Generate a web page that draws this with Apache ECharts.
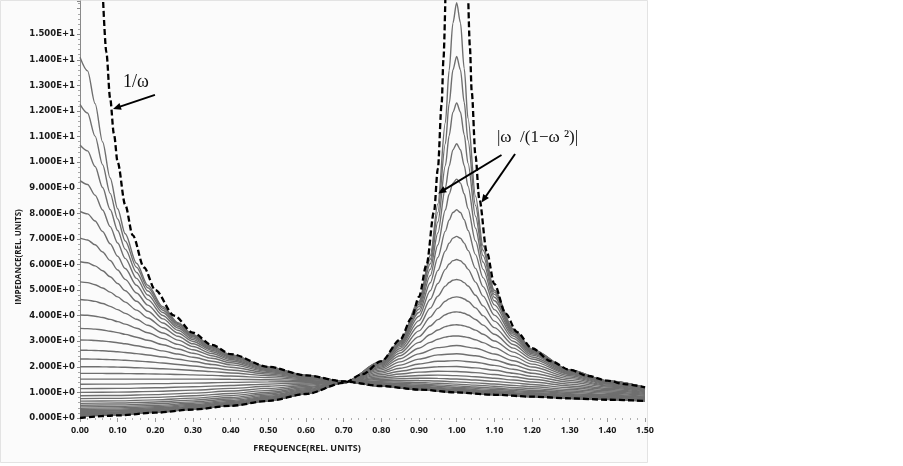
<!DOCTYPE html>
<html><head><meta charset="utf-8">
<script src="https://cdn.jsdelivr.net/npm/echarts@6/dist/echarts.min.js"></script>
<style>html,body{margin:0;padding:0;background:#fff}#chart{width:903px;height:466px}</style>
</head><body><div id="chart"></div>
<script>
// ---------- tick labels ----------
const xTickLabels = ['0.00','0.10','0.20','0.30','0.40','0.50','0.60','0.70','0.80','0.90','1.00','1.10','1.20','1.30','1.40','1.50'];
const yTickLabels = ['0.000E+0','1.000E+0','2.000E+0','3.000E+0','4.000E+0','5.000E+0','6.000E+0','7.000E+0','8.000E+0','9.000E+0','1.000E+1','1.100E+1','1.200E+1','1.300E+1','1.400E+1','1.500E+1'];

// ---------- frequency grids ----------
const freqL = [0, 0.02, 0.04, 0.06, 0.08, 0.10, 0.12, 0.15, 0.18, 0.22, 0.26, 0.30, 0.35, 0.40, 0.50, 0.60, 0.70, 0.80, 0.90, 1.00, 1.10, 1.20, 1.35, 1.50];
const freqM = [0, 0.1, 0.2, 0.3, 0.4, 0.5, 0.6, 0.7, 0.8, 0.85, 0.9, 0.95, 1.0, 1.05, 1.1, 1.15, 1.2, 1.3, 1.4, 1.5];
const freqS = [0, 0.1, 0.2, 0.3, 0.4, 0.5, 0.6, 0.7, 0.8, 0.85, 0.9, 0.93, 0.95, 0.97, 0.98, 0.99, 1.0, 1.01, 1.02, 1.03, 1.05, 1.07, 1.1, 1.15, 1.2, 1.3, 1.4, 1.5];

// ---------- impedance curves (high start, on freqL) ----------
const curveL1  = [14.10, 13.57, 12.29, 10.79, 9.38, 8.18, 7.20, 6.05, 5.19, 4.35, 3.73, 3.26, 2.814, 2.474, 1.990, 1.663, 1.428, 1.251, 1.113, 1.003, 0.912, 0.836, 0.743, 0.669];
const curveL2  = [12.26, 11.92, 11.02, 9.90, 8.78, 7.78, 6.92, 5.89, 5.09, 4.287, 3.692, 3.237, 2.800, 2.465, 1.987, 1.662, 1.428, 1.252, 1.114, 1.003, 0.913, 0.837, 0.744, 0.670];
const curveL3  = [10.67, 10.44, 9.83, 9.01, 8.15, 7.33, 6.60, 5.69, 4.962, 4.214, 3.647, 3.208, 2.783, 2.455, 1.983, 1.661, 1.428, 1.252, 1.115, 1.004, 0.914, 0.838, 0.746, 0.671];
const curveL4  = [9.28, 9.13, 8.71, 8.13, 7.48, 6.84, 6.24, 5.457, 4.809, 4.121, 3.589, 3.170, 2.760, 2.441, 1.977, 1.659, 1.428, 1.253, 1.116, 1.006, 0.915, 0.840, 0.747, 0.673];
const curveL5  = [8.08, 7.98, 7.70, 7.29, 6.81, 6.32, 5.843, 5.189, 4.626, 4.008, 3.517, 3.123, 2.731, 2.423, 1.970, 1.657, 1.428, 1.254, 1.118, 1.008, 0.917, 0.842, 0.749, 0.675];
const curveL6  = [7.03, 6.96, 6.77, 6.49, 6.155, 5.788, 5.418, 4.889, 4.414, 3.873, 3.428, 3.063, 2.694, 2.399, 1.961, 1.654, 1.428, 1.256, 1.120, 1.010, 0.920, 0.844, 0.752, 0.677];
const curveL7  = [6.11, 6.07, 5.947, 5.758, 5.521, 5.255, 4.976, 4.562, 4.174, 3.713, 3.321, 2.990, 2.648, 2.369, 1.949, 1.650, 1.428, 1.257, 1.123, 1.013, 0.923, 0.848, 0.755, 0.680];
const curveL8  = [5.32, 5.29, 5.21, 5.083, 4.921, 4.733, 4.530, 4.216, 3.909, 3.529, 3.193, 2.900, 2.590, 2.332, 1.933, 1.645, 1.428, 1.260, 1.126, 1.018, 0.928, 0.852, 0.759, 0.684];
const curveL9  = [4.63, 4.609, 4.557, 4.473, 4.365, 4.235, 4.091, 3.861, 3.627, 3.324, 3.045, 2.794, 2.519, 2.285, 1.914, 1.638, 1.427, 1.263, 1.131, 1.023, 0.934, 0.858, 0.765, 0.690];
const curveL10 = [4.025, 4.014, 3.980, 3.926, 3.854, 3.767, 3.669, 3.506, 3.333, 3.101, 2.878, 2.669, 2.434, 2.227, 1.889, 1.629, 1.427, 1.267, 1.137, 1.030, 0.941, 0.866, 0.773, 0.697];
const curveL11 = [3.502, 3.495, 3.474, 3.440, 3.393, 3.336, 3.270, 3.159, 3.037, 2.866, 2.695, 2.529, 2.335, 2.158, 1.857, 1.618, 1.426, 1.272, 1.145, 1.040, 0.952, 0.876, 0.782, 0.706];
const curveL12 = [3.047, 3.043, 3.030, 3.008, 2.979, 2.943, 2.901, 2.827, 2.744, 2.624, 2.499, 2.374, 2.221, 2.076, 1.818, 1.603, 1.426, 1.279, 1.156, 1.053, 0.965, 0.889, 0.795, 0.717];
const curveL13 = [2.651, 2.648, 2.641, 2.628, 2.611, 2.589, 2.562, 2.516, 2.463, 2.383, 2.297, 2.208, 2.094, 1.982, 1.771, 1.585, 1.425, 1.287, 1.170, 1.069, 0.982, 0.906, 0.810, 0.731];
const curveL14 = [2.306, 2.305, 2.300, 2.293, 2.283, 2.271, 2.256, 2.229, 2.197, 2.148, 2.093, 2.034, 1.956, 1.876, 1.716, 1.563, 1.424, 1.299, 1.188, 1.090, 1.004, 0.928, 0.830, 0.748];
const curveL15 = [2.006, 2.005, 2.003, 2.000, 1.995, 1.988, 1.981, 1.967, 1.950, 1.924, 1.893, 1.859, 1.812, 1.761, 1.651, 1.536, 1.422, 1.313, 1.211, 1.117, 1.032, 0.955, 0.854, 0.769];
const curveL16 = [1.745, 1.745, 1.744, 1.743, 1.741, 1.739, 1.736, 1.731, 1.724, 1.714, 1.701, 1.687, 1.665, 1.639, 1.578, 1.504, 1.420, 1.332, 1.241, 1.153, 1.068, 0.990, 0.884, 0.793];
const curveL17 = [1.518, 1.518, 1.518, 1.518, 1.518, 1.519, 1.519, 1.520, 1.520, 1.521, 1.521, 1.521, 1.519, 1.515, 1.498, 1.466, 1.418, 1.355, 1.279, 1.198, 1.114, 1.033, 0.920, 0.822];

// ---------- impedance curves (middle, on freqM) ----------
const curveM1  = [1.321, 1.326, 1.342, 1.365, 1.391, 1.413, 1.424, 1.416, 1.383, 1.358, 1.328, 1.293, 1.254, 1.213, 1.171, 1.128, 1.085, 1.001, 0.924, 0.853];
const curveM2  = [1.149, 1.157, 1.181, 1.220, 1.271, 1.326, 1.378, 1.413, 1.418, 1.408, 1.388, 1.361, 1.326, 1.286, 1.242, 1.195, 1.148, 1.055, 0.967, 0.888];
const curveM3  = [1.000, 1.010, 1.040, 1.090, 1.158, 1.240, 1.329, 1.409, 1.460, 1.468, 1.463, 1.444, 1.414, 1.374, 1.328, 1.276, 1.222, 1.114, 1.014, 0.923];
const curveM4  = [0.870, 0.881, 0.915, 0.972, 1.053, 1.157, 1.280, 1.406, 1.508, 1.540, 1.554, 1.548, 1.524, 1.483, 1.431, 1.372, 1.308, 1.181, 1.063, 0.960];
const curveM5  = [0.757, 0.769, 0.806, 0.868, 0.959, 1.080, 1.231, 1.402, 1.563, 1.624, 1.663, 1.674, 1.657, 1.615, 1.555, 1.483, 1.406, 1.252, 1.113, 0.995];
const curveM6  = [0.659, 0.671, 0.710, 0.777, 0.875, 1.009, 1.184, 1.398, 1.624, 1.721, 1.792, 1.826, 1.818, 1.773, 1.700, 1.610, 1.513, 1.325, 1.162, 1.028];
const curveM7  = [0.573, 0.586, 0.628, 0.698, 0.803, 0.947, 1.142, 1.394, 1.688, 1.829, 1.942, 2.006, 2.012, 1.960, 1.867, 1.752, 1.629, 1.399, 1.209, 1.059];
const curveM8  = [0.498, 0.513, 0.556, 0.631, 0.740, 0.893, 1.104, 1.391, 1.755, 1.946, 2.112, 2.219, 2.242, 2.180, 2.057, 1.906, 1.750, 1.471, 1.252, 1.085];
const curveM9  = [0.434, 0.449, 0.495, 0.574, 0.688, 0.848, 1.072, 1.387, 1.820, 2.068, 2.302, 2.467, 2.514, 2.434, 2.269, 2.070, 1.873, 1.538, 1.290, 1.108];
const curveM10 = [0.377, 0.394, 0.444, 0.526, 0.644, 0.810, 1.044, 1.385, 1.883, 2.193, 2.508, 2.752, 2.832, 2.726, 2.500, 2.239, 1.992, 1.599, 1.323, 1.127];

// ---------- impedance curves (sharp resonance, on freqS) ----------
const curveS1  = [0.328, 0.346, 0.399, 0.486, 0.609, 0.779, 1.021, 1.382, 1.941, 2.316, 2.728, 2.955, 3.077, 3.163, 3.189, 3.204, 3.207, 3.198, 3.178, 3.147, 3.060, 2.946, 2.749, 2.409, 2.107, 1.653, 1.351, 1.143];
const curveS2  = [0.286, 0.305, 0.363, 0.453, 0.580, 0.754, 1.003, 1.380, 1.992, 2.432, 2.955, 3.266, 3.442, 3.571, 3.612, 3.636, 3.643, 3.631, 3.603, 3.559, 3.435, 3.275, 3.008, 2.575, 2.212, 1.699, 1.374, 1.156];
const curveS3  = [0.248, 0.270, 0.332, 0.427, 0.557, 0.734, 0.988, 1.379, 2.037, 2.540, 3.182, 3.597, 3.846, 4.036, 4.099, 4.137, 4.148, 4.133, 4.092, 4.029, 3.850, 3.629, 3.272, 2.731, 2.306, 1.737, 1.393, 1.166];
const curveS4  = [0.216, 0.241, 0.306, 0.405, 0.538, 0.719, 0.977, 1.377, 2.075, 2.635, 3.404, 3.943, 4.287, 4.563, 4.658, 4.716, 4.734, 4.712, 4.653, 4.561, 4.306, 4.000, 3.534, 2.874, 2.387, 1.769, 1.407, 1.174];
const curveS5  = [0.188, 0.215, 0.286, 0.388, 0.524, 0.707, 0.968, 1.376, 2.106, 2.719, 3.614, 4.294, 4.760, 5.154, 5.296, 5.384, 5.413, 5.381, 5.293, 5.158, 4.796, 4.382, 3.787, 3.001, 2.457, 1.794, 1.419, 1.180];
const curveS6  = [0.164, 0.194, 0.269, 0.375, 0.513, 0.697, 0.961, 1.375, 2.132, 2.789, 3.806, 4.641, 5.255, 5.809, 6.017, 6.150, 6.194, 6.147, 6.017, 5.821, 5.313, 4.764, 4.021, 3.111, 2.514, 1.815, 1.428, 1.185];
const curveS7  = [0.142, 0.176, 0.256, 0.365, 0.504, 0.690, 0.955, 1.375, 2.152, 2.847, 3.977, 4.975, 5.763, 6.529, 6.831, 7.030, 7.098, 7.028, 6.836, 6.551, 5.848, 5.136, 4.235, 3.204, 2.560, 1.831, 1.435, 1.188];
const curveS8  = [0.124, 0.161, 0.245, 0.356, 0.498, 0.685, 0.951, 1.374, 2.168, 2.894, 4.125, 5.285, 6.271, 7.306, 7.739, 8.034, 8.138, 8.034, 7.749, 7.341, 6.386, 5.486, 4.423, 3.281, 2.598, 1.843, 1.441, 1.191];
const curveS9  = [0.108, 0.148, 0.237, 0.350, 0.493, 0.680, 0.948, 1.374, 2.181, 2.932, 4.250, 5.567, 6.765, 8.131, 8.745, 9.181, 9.339, 9.182, 8.763, 8.183, 6.916, 5.809, 4.584, 3.343, 2.627, 1.853, 1.445, 1.193];
const curveS10 = [0.094, 0.138, 0.230, 0.345, 0.489, 0.677, 0.945, 1.374, 2.190, 2.962, 4.353, 5.814, 7.231, 8.989, 9.845, 10.482, 10.719, 10.484, 9.871, 9.063, 7.420, 6.096, 4.719, 3.393, 2.650, 1.860, 1.448, 1.195];
const curveS11 = [0.082, 0.130, 0.225, 0.342, 0.486, 0.675, 0.943, 1.373, 2.198, 2.986, 4.437, 6.027, 7.659, 9.863, 11.033, 11.955, 12.313, 11.961, 11.073, 9.964, 7.888, 6.346, 4.831, 3.433, 2.668, 1.866, 1.451, 1.196];
const curveS12 = [0.071, 0.124, 0.221, 0.339, 0.483, 0.673, 0.942, 1.373, 2.204, 3.004, 4.504, 6.204, 8.038, 10.724, 12.283, 13.600, 14.135, 13.609, 12.340, 10.856, 8.306, 6.556, 4.920, 3.464, 2.682, 1.870, 1.453, 1.197];
const curveS13 = [0.062, 0.119, 0.218, 0.337, 0.482, 0.671, 0.941, 1.373, 2.208, 3.018, 4.557, 6.350, 8.367, 11.553, 13.582, 15.435, 16.232, 15.447, 13.660, 11.720, 8.673, 6.731, 4.992, 3.488, 2.693, 1.874, 1.454, 1.198];

// ---------- dashed asymptotes ----------
const invFreq = [0.0615, 0.07, 0.08, 0.09, 0.10, 0.12, 0.14, 0.17, 0.20, 0.25, 0.30, 0.35, 0.40, 0.50, 0.60, 0.70, 0.80, 0.90, 1.00, 1.10, 1.20, 1.30, 1.40, 1.50];
const invValue = [16.26, 14.29, 12.50, 11.11, 10.00, 8.333, 7.143, 5.882, 5.000, 4.000, 3.333, 2.857, 2.500, 2.000, 1.667, 1.429, 1.250, 1.111, 1.000, 0.909, 0.833, 0.769, 0.714, 0.667];
const resLowFreq = [0, 0.1, 0.2, 0.3, 0.4, 0.5, 0.6, 0.7, 0.75, 0.8, 0.85, 0.88, 0.9, 0.92, 0.94, 0.95, 0.96, 0.965, 0.97];
const resLowValue = [0, 0.101, 0.208, 0.330, 0.476, 0.667, 0.938, 1.373, 1.714, 2.222, 3.063, 3.901, 4.737, 5.990, 8.076, 9.744, 12.245, 14.031, 16.413];
const resHighFreq = [1.03, 1.035, 1.04, 1.05, 1.06, 1.08, 1.10, 1.13, 1.16, 1.20, 1.25, 1.30, 1.35, 1.40, 1.45, 1.50];
const resHighValue = [16.913, 14.531, 12.745, 10.244, 8.576, 6.490, 5.238, 4.081, 3.356, 2.727, 2.222, 1.884, 1.641, 1.458, 1.315, 1.200];

// ---------- annotation texts ----------
const labelInv = '1/ω';
const labelRes = '|ω  /(1−ω ²)|';

// ================= build =================
const curvesL = [curveL1, curveL2, curveL3, curveL4, curveL5, curveL6, curveL7, curveL8, curveL9, curveL10, curveL11, curveL12, curveL13, curveL14, curveL15, curveL16, curveL17];
const curvesM = [curveM1, curveM2, curveM3, curveM4, curveM5, curveM6, curveM7, curveM8, curveM9, curveM10];
const curvesS = [curveS1, curveS2, curveS3, curveS4, curveS5, curveS6, curveS7, curveS8, curveS9, curveS10, curveS11, curveS12, curveS13];

function zip(xs, ys) { return xs.map((x, i) => [x, ys[i]]); }

const series = [];
[[freqL, curvesL], [freqM, curvesM], [freqS, curvesS]].forEach(([xs, list]) => {
  list.forEach(ys => series.push({
    type: 'line', data: zip(xs, ys), symbol: 'none', smooth: 0.3, smoothMonotone: 'x',
    lineStyle: { color: '#6f6f6f', width: 1.4 }, silent: true, z: 2, animation: false
  }));
});
[[invFreq, invValue], [resLowFreq, resLowValue], [resHighFreq, resHighValue]].forEach(([xs, ys]) => {
  series.push({
    type: 'line', data: zip(xs, ys), symbol: 'none', smooth: 0.3, smoothMonotone: 'x',
    lineStyle: { color: '#000', width: 2.3, type: [6, 3] }, silent: true, z: 5, animation: false
  });
});

const chart = echarts.init(document.getElementById('chart'), null, { renderer: 'canvas' });
chart.setOption({
  backgroundColor: '#ffffff',
  animation: false,
  grid: { left: 80, right: 258, top: 1, bottom: 48, outerBoundsMode: 'none' },
  xAxis: {
    type: 'value', min: 0, max: 1.5, interval: 0.1,
    axisLine: { show: false },
    axisTick: { show: true, length: 4, lineStyle: { color: '#9a9a9a' } },
    minorTick: { show: true, splitNumber: 5, length: 2, lineStyle: { color: '#b0b0b0' } },
    splitLine: { show: false },
    axisLabel: {
      margin: 8, fontFamily: 'Open Sans', fontWeight: 'bold', fontSize: 9, color: '#1a1a1a',
      formatter: v => xTickLabels[Math.round(v * 10)] || ''
    }
  },
  yAxis: {
    type: 'value', min: 0, max: 16.3, interval: 1,
    axisLine: { show: true, lineStyle: { color: '#8a8a8a', width: 1 } },
    axisTick: { show: true, length: 3, lineStyle: { color: '#8a8a8a' } },
    minorTick: { show: true, splitNumber: 5, length: 2, lineStyle: { color: '#a8a8a8' } },
    splitLine: { show: false },
    axisLabel: {
      margin: 5, fontFamily: 'DejaVu Sans', fontWeight: 'bold', fontSize: 8.5, color: '#1a1a1a',
      showMaxLabel: false,
      formatter: v => {
        const i = Math.round(v);
        return (Math.abs(v - i) < 1e-6 && i <= 15) ? yTickLabels[i] : '';
      }
    }
  },
  series: series
});

// annotations placed in data coordinates
const P = (x, y) => chart.convertToPixel({ gridIndex: 0 }, [x, y]);
const arrows = [
  [[0.199, 12.63], [0.0876, 12.08]],
  [[1.119, 10.28], [0.951, 8.78]],
  [[1.155, 10.32], [1.066, 8.42]]
];
const graphics = [
  { type: 'rect', z: -1, silent: true, shape: { x: 0.5, y: 0.5, width: 647, height: 462 },
    style: { fill: '#fbfbfb', stroke: '#e3e3e3', lineWidth: 1 } },
  { type: 'text', silent: true, x: 307, y: 448,
    style: { text: 'FREQUENCE(REL. UNITS)', fontFamily: 'Open Sans', fontWeight: 'bold', fontSize: 9,
             fill: '#1a1a1a', align: 'center', verticalAlign: 'middle' } },
  { type: 'text', silent: true, x: 19, y: 257, rotation: Math.PI / 2,
    style: { text: 'IMPEDANCE(REL. UNITS)', fontFamily: 'Open Sans', fontWeight: 'bold', fontSize: 8,
             fill: '#1a1a1a', align: 'center', verticalAlign: 'middle' } }
];
const t1 = P(0.114, 13.14);
graphics.push({ type: 'text', silent: true, z: 10, x: t1[0], y: t1[1],
  style: { text: labelInv, fontFamily: 'Liberation Serif', fontSize: 18, fill: '#111', align: 'left', verticalAlign: 'middle' } });
const t2 = P(1.107, 10.97);
graphics.push({ type: 'text', silent: true, z: 10, x: t2[0], y: t2[1],
  style: { text: labelRes, fontFamily: 'Liberation Serif', fontSize: 17, fill: '#111', align: 'left', verticalAlign: 'middle' } });
arrows.forEach(([tail, tip]) => {
  const a = P(tail[0], tail[1]), b = P(tip[0], tip[1]);
  const dx = b[0] - a[0], dy = b[1] - a[1], L = Math.hypot(dx, dy);
  const ux = dx / L, uy = dy / L, nx = -uy, ny = ux;
  const hl = 8, hw = 3.5;
  const bx = b[0] - ux * hl, by = b[1] - uy * hl;
  graphics.push({ type: 'line', silent: true, z: 10,
    shape: { x1: a[0], y1: a[1], x2: b[0] - ux * 5, y2: b[1] - uy * 5 },
    style: { stroke: '#000', lineWidth: 2 } });
  graphics.push({ type: 'polygon', silent: true, z: 10,
    shape: { points: [[b[0], b[1]], [bx + nx * hw, by + ny * hw], [bx - nx * hw, by - ny * hw]] },
    style: { fill: '#000' } });
});
chart.setOption({ graphic: graphics });
</script></body></html>
